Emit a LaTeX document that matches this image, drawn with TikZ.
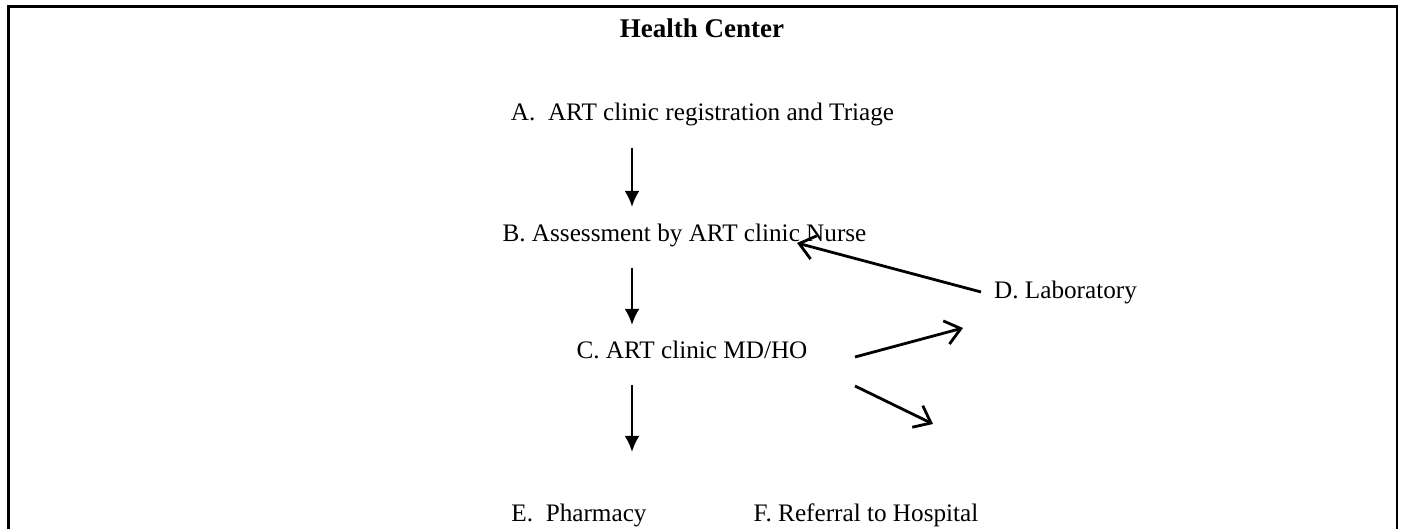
\documentclass[tikz,border=0pt]{standalone}
\usepackage{fontspec}
\setmainfont{Liberation Serif}
\usetikzlibrary{arrows.meta}
\begin{document}
\begin{tikzpicture}[x=1pt,y=1pt,
  lbl/.style={anchor=base,inner sep=0pt,font=\fontsize{25.2}{30}\selectfont},
  ttl/.style={anchor=base,inner sep=0pt,font=\fontsize{27}{32}\selectfont\bfseries},
  down/.style={line width=2.8pt,-{Latex[length=16pt,width=15pt]}},
  side/.style={line width=2.8pt,-{Straight Barb[length=15pt,width=24pt,line width=2.8pt]}}]
\useasboundingbox (0,0) rectangle (1403,529);
% frame of the health-centre panel, open below the page edge
\draw[line width=2.8pt] (8.5,-20) -- (8.5,522.5) -- (1397,522.5) -- (1397,-20);
\node[ttl] (hc) at (702,491) {Health Center};
\node[lbl] (A) at (702.5,408) {A.\ \ ART clinic registration and Triage};
\node[lbl] (B) at (684.5,287) {B. Assessment by ART clinic Nurse};
\node[lbl] (C) at (692,170) {C. ART clinic MD/HO};
\node[lbl] (D) at (1065.5,230) {D. Laboratory};
\node[lbl] (E) at (579,7) {E.\ \ Pharmacy};
\node[lbl] (F) at (866,7) {F. Referral to Hospital};
% arrow end points
\coordinate (a1) at (632,381);
\coordinate (b0) at (632,322);
\coordinate (b1) at (632,261);
\coordinate (c0) at (632,204);
\coordinate (c1) at (632,144);
\coordinate (e0) at (632,77);
\coordinate (d1) at (981,237);
\coordinate (b2) at (797,286);
\coordinate (c2) at (855,172);
\coordinate (d0) at (963,201);
\coordinate (c3) at (855,143);
\coordinate (f0) at (933,105);
\draw[down] (a1) -- (b0);
\draw[down] (b1) -- (c0);
\draw[down] (c1) -- (e0);
\draw[side] (d1) -- (b2);
\draw[side] (c2) -- (d0);
\draw[side] (c3) -- (f0);
\end{tikzpicture}
\end{document}
